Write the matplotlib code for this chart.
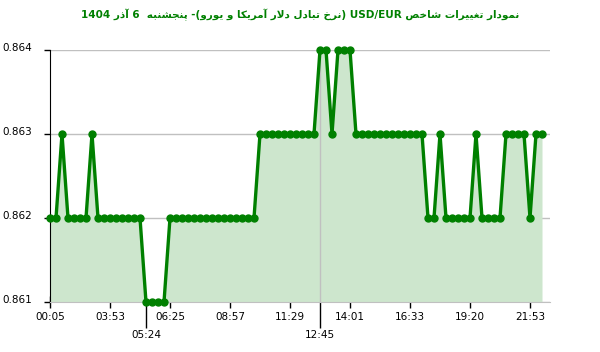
import re
import matplotlib
matplotlib.use("Agg")
import matplotlib.pyplot as plt
import matplotlib.transforms as mtransforms

# rate values, one per sample
rate = [
    0.862, 0.862, 0.863, 0.862, 0.862, 0.862, 0.862, 0.863, 0.862, 0.862,
    0.862, 0.862, 0.862, 0.862, 0.862, 0.862, 0.861, 0.861, 0.861, 0.861,
    0.862, 0.862, 0.862, 0.862, 0.862, 0.862, 0.862, 0.862, 0.862, 0.862,
    0.862, 0.862, 0.862, 0.862, 0.862, 0.863, 0.863, 0.863, 0.863, 0.863,
    0.863, 0.863, 0.863, 0.863, 0.863, 0.864, 0.864, 0.863, 0.864, 0.864,
    0.864, 0.863, 0.863, 0.863, 0.863, 0.863, 0.863, 0.863, 0.863, 0.863,
    0.863, 0.863, 0.863, 0.862, 0.862, 0.863, 0.862, 0.862, 0.862, 0.862,
    0.862, 0.863, 0.862, 0.862, 0.862, 0.862, 0.863, 0.863, 0.863, 0.863,
    0.862, 0.863, 0.863,
]

tick_pos = [0, 10, 20, 30, 40, 50, 60, 70, 80]
tick_labels = ["00:05", "03:53", "06:25", "08:57", "11:29", "14:01", "16:33", "19:20", "21:53"]
# min / max markers on the time axis
extra_pos = [16, 45]
extra_labels = ["05:24", "12:45"]

y_ticks = [0.861, 0.862, 0.863, 0.864]

title = "نمودار تغییرات شاخص USD/EUR (نرخ تبادل دلار آمریکا و یورو)- پنجشنبه  6 آذر 1404"

# --- minimal persian shaping + rtl reorder (no arabic_reshaper here) ---
FORMS = {
    "ا": ("\uFE8D", "\uFE8E", None, None),
    "آ": ("\uFE81", "\uFE82", None, None),
    "ب": ("\uFE8F", "\uFE90", "\uFE91", "\uFE92"),
    "پ": ("\uFB56", "\uFB57", "\uFB58", "\uFB59"),
    "ت": ("\uFE95", "\uFE96", "\uFE97", "\uFE98"),
    "ج": ("\uFE9D", "\uFE9E", "\uFE9F", "\uFEA0"),
    "خ": ("\uFEA5", "\uFEA6", "\uFEA7", "\uFEA8"),
    "د": ("\uFEA9", "\uFEAA", None, None),
    "ذ": ("\uFEAB", "\uFEAC", None, None),
    "ر": ("\uFEAD", "\uFEAE", None, None),
    "ش": ("\uFEB5", "\uFEB6", "\uFEB7", "\uFEB8"),
    "ص": ("\uFEB9", "\uFEBA", "\uFEBB", "\uFEBC"),
    "غ": ("\uFECD", "\uFECE", "\uFECF", "\uFED0"),
    "ک": ("\uFB8E", "\uFB8F", "\uFB90", "\uFB91"),
    "ل": ("\uFEDD", "\uFEDE", "\uFEDF", "\uFEE0"),
    "م": ("\uFEE1", "\uFEE2", "\uFEE3", "\uFEE4"),
    "ن": ("\uFEE5", "\uFEE6", "\uFEE7", "\uFEE8"),
    "و": ("\uFEED", "\uFEEE", None, None),
    "ه": ("\uFEE9", "\uFEEA", "\uFEEB", "\uFEEC"),
    "ی": ("\uFBFC", "\uFBFD", "\uFBFE", "\uFBFF"),
}
MIRROR = str.maketrans("()", ")(")


def shape(text):
    out = []
    i = 0
    while i < len(text):
        c = text[i]
        prev = text[i - 1] if i > 0 else ""
        nxt = text[i + 1] if i + 1 < len(text) else ""
        j_prev = prev in FORMS and FORMS[prev][2] is not None
        if c == "ل" and nxt == "ا":
            out.append("\uFEFC" if j_prev else "\uFEFB")
            i += 2
            continue
        if c not in FORMS:
            out.append(c)
            i += 1
            continue
        iso, fin, ini, med = FORMS[c]
        j_next = ini is not None and nxt in FORMS
        if j_prev and j_next:
            out.append(med)
        elif j_prev:
            out.append(fin)
        elif j_next:
            out.append(ini)
        else:
            out.append(iso)
        i += 1
    return "".join(out)


def rtl(text):
    parts = re.findall(r"[A-Za-z0-9]+(?:[/.:][A-Za-z0-9]+)*|[^A-Za-z0-9]+", shape(text))
    out = []
    for p in reversed(parts):
        if re.match(r"[A-Za-z0-9]", p):
            out.append(p)
        else:
            out.append(p[::-1].translate(MIRROR))
    return "".join(out)


green = "#008000"
grid_c = "#c0c0c0"

fig = plt.figure(figsize=(6, 3.52), dpi=100)
ax = fig.add_axes([50 / 600, 50 / 352, 500 / 600, 252 / 352])

x = list(range(len(rate)))
ax.fill_between(x, y_ticks[0], rate, color="#cde6cd", lw=0, zorder=1)
ax.axvline(extra_pos[1], color=grid_c, lw=1, zorder=1.5)
ax.plot(x, rate, color=green, lw=2.4, marker="o", ms=5, zorder=3, clip_on=False)

ax.set_xlim(0, 500 / 6)
ax.set_ylim(y_ticks[0], y_ticks[-1])
ax.set_yticks(y_ticks)
ax.set_yticklabels(["%.3f" % v for v in y_ticks])
ax.yaxis.grid(True, color=grid_c, lw=1)
ax.set_axisbelow(True)

ax.set_xticks(tick_pos)
ax.set_xticklabels(tick_labels)
ax.set_xticks(extra_pos, minor=True)
ax.set_xticklabels(extra_labels, minor=True)

ax.tick_params(axis="x", which="major", direction="inout", length=8.5, width=1, pad=3, labelsize=7.5)
ax.tick_params(axis="x", which="minor", direction="out", length=19, width=1, pad=1, labelsize=7.5)
ax.tick_params(axis="y", direction="out", length=4, width=1, pad=9, labelsize=7.5)

for sp in ["top", "right"]:
    ax.spines[sp].set_visible(False)
ax.spines["bottom"].set_color(grid_c)
ax.spines["left"].set_color("black")

# y labels sit a little above their tick in the original
shift = mtransforms.ScaledTranslation(0, 3 / 100, fig.dpi_scale_trans)
for lab in ax.get_yticklabels():
    lab.set_transform(lab.get_transform() + shift)

fig.text(0.5, 1 - 15 / 352, rtl(title), ha="center", va="center",
         color=green, fontsize=7.5, fontweight="bold", family="DejaVu Sans")

fig.savefig("out.png", dpi=100)
